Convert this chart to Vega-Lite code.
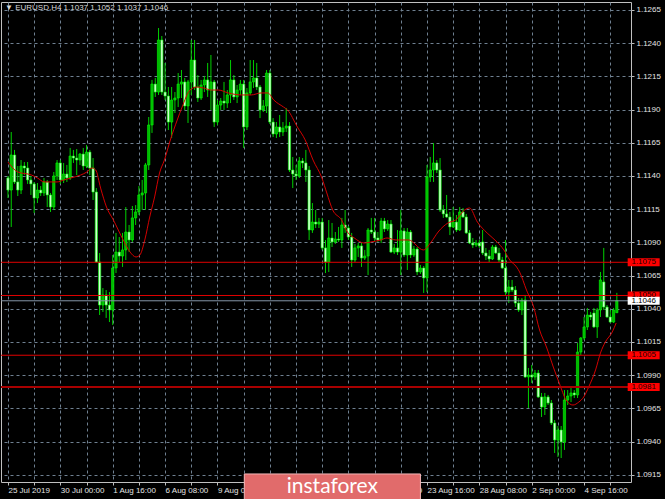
{
  "$schema": "https://vega.github.io/schema/vega-lite/v6.json",
  "width": 630,
  "height": 480,
  "autosize": {"type": "none"},
  "padding": {"left": 1, "top": 2, "right": 34, "bottom": 17},
  "background": "#000000",
  "title": {
    "text": "▼ EURUSD,H4  1.1037 1.1052 1.1037 1.1046",
    "anchor": "start", "frame": "group", "offset": -10, "dx": 4,
    "font": "Liberation Sans", "fontSize": 8, "fontWeight": "normal", "color": "#d8d8d8"
  },
  "config": {
    "view": {"stroke": "#c0c0c0", "strokeWidth": 1},
    "axis": {
      "labelColor": "#e4e4e4", "labelFont": "Liberation Sans", "labelFontSize": 8,
      "tickColor": "#bdbdbd", "tickSize": 3, "domain": false,
      "labelOverlap": false, "labelSeparation": 0,
      "gridColor": "#6f8091", "gridDash": [3, 3], "gridOpacity": 1, "gridWidth": 1
    }
  },
  "datasets": {
    "candles": [
      {"k":0,"o":1.11385,"h":1.114,"l":1.11234,"c":1.11294},
      {"k":1,"o":1.11294,"h":1.11731,"l":1.11016,"c":1.11558},
      {"k":2,"o":1.11558,"h":1.11596,"l":1.1134,"c":1.11355},
      {"k":3,"o":1.11355,"h":1.11475,"l":1.11249,"c":1.11294},
      {"k":4,"o":1.11294,"h":1.1152,"l":1.11264,"c":1.11475},
      {"k":5,"o":1.11475,"h":1.11505,"l":1.11407,"c":1.1146},
      {"k":6,"o":1.1146,"h":1.11505,"l":1.1134,"c":1.1137},
      {"k":7,"o":1.1137,"h":1.114,"l":1.11257,"c":1.1134},
      {"k":8,"o":1.1134,"h":1.11355,"l":1.11121,"c":1.11234},
      {"k":9,"o":1.11234,"h":1.11347,"l":1.11196,"c":1.11294},
      {"k":10,"o":1.11294,"h":1.11324,"l":1.11249,"c":1.11272},
      {"k":11,"o":1.11272,"h":1.11385,"l":1.11249,"c":1.11355},
      {"k":12,"o":1.11355,"h":1.1137,"l":1.11166,"c":1.11257},
      {"k":13,"o":1.11257,"h":1.11272,"l":1.11129,"c":1.11166},
      {"k":14,"o":1.11166,"h":1.1143,"l":1.11144,"c":1.114},
      {"k":15,"o":1.114,"h":1.1152,"l":1.1137,"c":1.11498},
      {"k":16,"o":1.11498,"h":1.1152,"l":1.1134,"c":1.1137},
      {"k":17,"o":1.1137,"h":1.11498,"l":1.11347,"c":1.11415},
      {"k":18,"o":1.11415,"h":1.11483,"l":1.11355,"c":1.11385},
      {"k":19,"o":1.11385,"h":1.11611,"l":1.1137,"c":1.1155},
      {"k":20,"o":1.1155,"h":1.11596,"l":1.11498,"c":1.11535},
      {"k":21,"o":1.11535,"h":1.11603,"l":1.11407,"c":1.1152},
      {"k":22,"o":1.1152,"h":1.11573,"l":1.11483,"c":1.11565},
      {"k":23,"o":1.11565,"h":1.11611,"l":1.11445,"c":1.11475},
      {"k":24,"o":1.11475,"h":1.11633,"l":1.1146,"c":1.1158},
      {"k":25,"o":1.1158,"h":1.11596,"l":1.11407,"c":1.1146},
      {"k":26,"o":1.1146,"h":1.11535,"l":1.11219,"c":1.11279},
      {"k":27,"o":1.11279,"h":1.11309,"l":1.10745,"c":1.10752},
      {"k":28,"o":1.10752,"h":1.1082,"l":1.10353,"c":1.10428},
      {"k":29,"o":1.10428,"h":1.10556,"l":1.10376,"c":1.10504},
      {"k":30,"o":1.10504,"h":1.10541,"l":1.10331,"c":1.10428},
      {"k":31,"o":1.10428,"h":1.10526,"l":1.103,"c":1.10391},
      {"k":32,"o":1.10391,"h":1.10805,"l":1.10278,"c":1.10707},
      {"k":33,"o":1.10707,"h":1.10971,"l":1.10669,"c":1.10827},
      {"k":34,"o":1.10827,"h":1.1094,"l":1.10752,"c":1.10797},
      {"k":35,"o":1.10797,"h":1.10971,"l":1.10715,"c":1.10843},
      {"k":36,"o":1.10843,"h":1.11166,"l":1.10767,"c":1.10978},
      {"k":37,"o":1.10978,"h":1.11031,"l":1.10827,"c":1.10918},
      {"k":38,"o":1.10918,"h":1.11174,"l":1.10903,"c":1.11084},
      {"k":39,"o":1.11084,"h":1.11181,"l":1.11031,"c":1.11129},
      {"k":40,"o":1.11129,"h":1.11324,"l":1.11106,"c":1.11257},
      {"k":41,"o":1.11257,"h":1.1137,"l":1.11144,"c":1.11272},
      {"k":42,"o":1.11272,"h":1.11498,"l":1.11144,"c":1.11483},
      {"k":43,"o":1.11483,"h":1.11844,"l":1.11445,"c":1.11784},
      {"k":44,"o":1.11784,"h":1.12123,"l":1.11724,"c":1.12092},
      {"k":45,"o":1.12092,"h":1.12138,"l":1.11995,"c":1.12032},
      {"k":46,"o":1.12032,"h":1.12514,"l":1.1201,"c":1.12424},
      {"k":47,"o":1.12424,"h":1.12454,"l":1.1201,"c":1.12032},
      {"k":48,"o":1.12032,"h":1.12251,"l":1.11972,"c":1.12002},
      {"k":49,"o":1.12002,"h":1.1207,"l":1.11746,"c":1.11806},
      {"k":50,"o":1.11806,"h":1.1207,"l":1.11686,"c":1.11972},
      {"k":51,"o":1.11972,"h":1.12032,"l":1.11874,"c":1.11987},
      {"k":52,"o":1.11987,"h":1.12175,"l":1.11919,"c":1.12092},
      {"k":53,"o":1.12092,"h":1.12198,"l":1.11987,"c":1.12108},
      {"k":54,"o":1.12108,"h":1.12138,"l":1.11897,"c":1.11927},
      {"k":55,"o":1.11927,"h":1.12123,"l":1.11799,"c":1.12108},
      {"k":56,"o":1.12108,"h":1.12424,"l":1.1201,"c":1.12273},
      {"k":57,"o":1.12273,"h":1.12424,"l":1.12047,"c":1.1207},
      {"k":58,"o":1.1207,"h":1.1216,"l":1.11957,"c":1.11987},
      {"k":59,"o":1.11987,"h":1.12123,"l":1.11972,"c":1.12085},
      {"k":60,"o":1.12085,"h":1.12153,"l":1.12032,"c":1.12123},
      {"k":61,"o":1.12123,"h":1.12251,"l":1.11995,"c":1.12047},
      {"k":62,"o":1.12047,"h":1.12311,"l":1.11897,"c":1.12108},
      {"k":63,"o":1.12108,"h":1.12123,"l":1.11769,"c":1.11806},
      {"k":64,"o":1.11806,"h":1.11972,"l":1.11784,"c":1.11934},
      {"k":65,"o":1.11934,"h":1.11987,"l":1.11897,"c":1.11964},
      {"k":66,"o":1.11964,"h":1.12108,"l":1.11897,"c":1.11949},
      {"k":67,"o":1.11949,"h":1.12047,"l":1.11912,"c":1.1201},
      {"k":68,"o":1.1201,"h":1.12273,"l":1.11949,"c":1.12123},
      {"k":69,"o":1.12123,"h":1.1216,"l":1.11972,"c":1.11995},
      {"k":70,"o":1.11995,"h":1.12085,"l":1.11949,"c":1.12047},
      {"k":71,"o":1.12047,"h":1.12123,"l":1.1201,"c":1.12092},
      {"k":72,"o":1.12092,"h":1.12123,"l":1.11611,"c":1.11769},
      {"k":73,"o":1.11769,"h":1.12062,"l":1.11746,"c":1.12025},
      {"k":74,"o":1.12025,"h":1.12273,"l":1.1201,"c":1.12108},
      {"k":75,"o":1.12108,"h":1.12273,"l":1.12062,"c":1.12138},
      {"k":76,"o":1.12138,"h":1.12251,"l":1.12047,"c":1.1207},
      {"k":77,"o":1.1207,"h":1.12085,"l":1.11836,"c":1.11897},
      {"k":78,"o":1.11897,"h":1.11972,"l":1.11882,"c":1.11927},
      {"k":79,"o":1.11927,"h":1.12198,"l":1.11874,"c":1.12175},
      {"k":80,"o":1.12175,"h":1.12198,"l":1.11791,"c":1.11806},
      {"k":81,"o":1.11806,"h":1.11836,"l":1.11693,"c":1.11716},
      {"k":82,"o":1.11716,"h":1.11806,"l":1.11686,"c":1.11769},
      {"k":83,"o":1.11769,"h":1.11859,"l":1.11693,"c":1.11731},
      {"k":84,"o":1.11731,"h":1.11806,"l":1.11701,"c":1.11761},
      {"k":85,"o":1.11761,"h":1.11912,"l":1.11731,"c":1.11776},
      {"k":86,"o":1.11776,"h":1.11806,"l":1.1143,"c":1.11445},
      {"k":87,"o":1.11445,"h":1.11543,"l":1.11309,"c":1.11415},
      {"k":88,"o":1.11415,"h":1.11483,"l":1.1137,"c":1.114},
      {"k":89,"o":1.114,"h":1.11543,"l":1.11385,"c":1.11513},
      {"k":90,"o":1.11513,"h":1.11535,"l":1.1146,"c":1.11498},
      {"k":91,"o":1.11498,"h":1.11596,"l":1.11355,"c":1.11445},
      {"k":92,"o":1.11445,"h":1.11475,"l":1.10918,"c":1.10993},
      {"k":93,"o":1.10993,"h":1.11196,"l":1.10971,"c":1.11053},
      {"k":94,"o":1.11053,"h":1.11144,"l":1.11008,"c":1.11038},
      {"k":95,"o":1.11038,"h":1.11084,"l":1.11008,"c":1.11053},
      {"k":96,"o":1.11053,"h":1.11084,"l":1.10843,"c":1.10858},
      {"k":97,"o":1.10858,"h":1.10918,"l":1.10669,"c":1.10752},
      {"k":98,"o":1.10752,"h":1.11068,"l":1.10677,"c":1.10933},
      {"k":99,"o":1.10933,"h":1.11046,"l":1.10865,"c":1.10903},
      {"k":100,"o":1.10903,"h":1.10978,"l":1.10888,"c":1.10925},
      {"k":101,"o":1.10925,"h":1.11016,"l":1.10903,"c":1.10918},
      {"k":102,"o":1.10918,"h":1.11084,"l":1.10858,"c":1.11031},
      {"k":103,"o":1.11031,"h":1.11144,"l":1.10971,"c":1.11008},
      {"k":104,"o":1.11008,"h":1.11023,"l":1.10918,"c":1.1094},
      {"k":105,"o":1.1094,"h":1.10971,"l":1.10715,"c":1.10767},
      {"k":106,"o":1.10767,"h":1.10888,"l":1.10752,"c":1.10858},
      {"k":107,"o":1.10858,"h":1.10895,"l":1.1079,"c":1.10873},
      {"k":108,"o":1.10873,"h":1.10895,"l":1.10715,"c":1.10782},
      {"k":109,"o":1.10782,"h":1.10843,"l":1.10767,"c":1.10797},
      {"k":110,"o":1.10797,"h":1.11008,"l":1.10654,"c":1.10993},
      {"k":111,"o":1.10993,"h":1.11084,"l":1.10963,"c":1.10978},
      {"k":112,"o":1.10978,"h":1.11084,"l":1.1091,"c":1.10933},
      {"k":113,"o":1.10933,"h":1.10978,"l":1.10903,"c":1.10918},
      {"k":114,"o":1.10918,"h":1.11084,"l":1.10895,"c":1.11061},
      {"k":115,"o":1.11061,"h":1.11084,"l":1.10978,"c":1.11001},
      {"k":116,"o":1.11001,"h":1.11068,"l":1.10986,"c":1.11038},
      {"k":117,"o":1.11038,"h":1.11068,"l":1.1082,"c":1.10827},
      {"k":118,"o":1.10827,"h":1.10888,"l":1.10812,"c":1.10858},
      {"k":119,"o":1.10858,"h":1.10993,"l":1.10805,"c":1.10827},
      {"k":120,"o":1.10827,"h":1.11144,"l":1.10654,"c":1.10986},
      {"k":121,"o":1.10986,"h":1.11008,"l":1.1079,"c":1.10805},
      {"k":122,"o":1.10805,"h":1.11008,"l":1.10692,"c":1.10978},
      {"k":123,"o":1.10978,"h":1.10993,"l":1.10782,"c":1.10805},
      {"k":124,"o":1.10805,"h":1.10873,"l":1.1079,"c":1.1085},
      {"k":125,"o":1.1085,"h":1.10865,"l":1.10654,"c":1.10677},
      {"k":126,"o":1.10677,"h":1.1073,"l":1.10662,"c":1.10707},
      {"k":127,"o":1.10707,"h":1.10722,"l":1.10519,"c":1.10632},
      {"k":128,"o":1.10632,"h":1.11483,"l":1.10526,"c":1.11392},
      {"k":129,"o":1.11392,"h":1.11543,"l":1.11355,"c":1.11445},
      {"k":130,"o":1.11445,"h":1.11648,"l":1.11355,"c":1.11498},
      {"k":131,"o":1.11498,"h":1.1152,"l":1.11422,"c":1.11445},
      {"k":132,"o":1.11445,"h":1.11535,"l":1.11129,"c":1.11144},
      {"k":133,"o":1.11144,"h":1.11181,"l":1.11084,"c":1.11114},
      {"k":134,"o":1.11114,"h":1.11257,"l":1.11084,"c":1.11091},
      {"k":135,"o":1.11091,"h":1.11129,"l":1.10955,"c":1.11016},
      {"k":136,"o":1.11016,"h":1.11166,"l":1.11008,"c":1.11053},
      {"k":137,"o":1.11053,"h":1.11106,"l":1.10978,"c":1.10993},
      {"k":138,"o":1.10993,"h":1.11166,"l":1.10986,"c":1.11129},
      {"k":139,"o":1.11129,"h":1.11159,"l":1.11084,"c":1.11091},
      {"k":140,"o":1.11091,"h":1.11114,"l":1.10963,"c":1.10971},
      {"k":141,"o":1.10971,"h":1.10993,"l":1.10888,"c":1.10895},
      {"k":142,"o":1.10895,"h":1.10933,"l":1.10858,"c":1.1088},
      {"k":143,"o":1.1088,"h":1.10918,"l":1.10865,"c":1.10895},
      {"k":144,"o":1.10895,"h":1.10918,"l":1.10858,"c":1.10873},
      {"k":145,"o":1.10903,"h":1.10993,"l":1.10805,"c":1.1082},
      {"k":146,"o":1.1082,"h":1.10858,"l":1.10767,"c":1.10797},
      {"k":147,"o":1.10797,"h":1.10843,"l":1.10752,"c":1.10775},
      {"k":148,"o":1.10775,"h":1.1088,"l":1.10767,"c":1.10865},
      {"k":149,"o":1.10865,"h":1.1088,"l":1.10812,"c":1.1082},
      {"k":150,"o":1.1082,"h":1.10858,"l":1.10752,"c":1.10767},
      {"k":151,"o":1.10767,"h":1.1079,"l":1.10699,"c":1.10707},
      {"k":152,"o":1.10707,"h":1.10918,"l":1.10504,"c":1.10526},
      {"k":153,"o":1.10526,"h":1.10617,"l":1.10443,"c":1.10564},
      {"k":154,"o":1.10564,"h":1.10617,"l":1.10526,"c":1.10541},
      {"k":155,"o":1.10541,"h":1.10571,"l":1.10413,"c":1.10443},
      {"k":156,"o":1.10443,"h":1.10481,"l":1.10376,"c":1.10391},
      {"k":157,"o":1.10391,"h":1.10481,"l":1.10353,"c":1.10466},
      {"k":158,"o":1.10466,"h":1.10504,"l":1.09879,"c":1.09886},
      {"k":159,"o":1.09886,"h":1.09954,"l":1.09653,"c":1.09901},
      {"k":160,"o":1.09901,"h":1.09977,"l":1.09841,"c":1.09886},
      {"k":161,"o":1.09886,"h":1.09939,"l":1.09864,"c":1.09916},
      {"k":162,"o":1.09916,"h":1.09939,"l":1.09728,"c":1.09736},
      {"k":163,"o":1.09736,"h":1.09766,"l":1.09585,"c":1.0966},
      {"k":164,"o":1.0966,"h":1.09766,"l":1.096,"c":1.09736},
      {"k":165,"o":1.09736,"h":1.09751,"l":1.09675,"c":1.0969},
      {"k":166,"o":1.0969,"h":1.09713,"l":1.09525,"c":1.0954},
      {"k":167,"o":1.0954,"h":1.09562,"l":1.09314,"c":1.09412},
      {"k":168,"o":1.09412,"h":1.09517,"l":1.09284,"c":1.09487},
      {"k":169,"o":1.09487,"h":1.09517,"l":1.09276,"c":1.09397},
      {"k":170,"o":1.09397,"h":1.09788,"l":1.09337,"c":1.09713},
      {"k":171,"o":1.09713,"h":1.09788,"l":1.09675,"c":1.09743},
      {"k":172,"o":1.09743,"h":1.09811,"l":1.09698,"c":1.09766},
      {"k":173,"o":1.09766,"h":1.09788,"l":1.09728,"c":1.09751},
      {"k":174,"o":1.09751,"h":1.10142,"l":1.09728,"c":1.10074},
      {"k":175,"o":1.10074,"h":1.10187,"l":1.10052,"c":1.1018},
      {"k":176,"o":1.1018,"h":1.10338,"l":1.10165,"c":1.10263},
      {"k":177,"o":1.10263,"h":1.10406,"l":1.1024,"c":1.10353},
      {"k":178,"o":1.10353,"h":1.10376,"l":1.10315,"c":1.10338},
      {"k":179,"o":1.10368,"h":1.10406,"l":1.10255,"c":1.10263},
      {"k":180,"o":1.10263,"h":1.10406,"l":1.1018,"c":1.10391},
      {"k":181,"o":1.10391,"h":1.10677,"l":1.10338,"c":1.10617},
      {"k":182,"o":1.10602,"h":1.10858,"l":1.10391,"c":1.10413},
      {"k":183,"o":1.10413,"h":1.10428,"l":1.10331,"c":1.10338},
      {"k":184,"o":1.10338,"h":1.10391,"l":1.10293,"c":1.103},
      {"k":185,"o":1.103,"h":1.10406,"l":1.10293,"c":1.10391},
      {"k":186,"o":1.1037,"h":1.1052,"l":1.1037,"c":1.1046}
    ],
    "ma": [
      {"k":0,"m":1.11505},{"k":3,"m":1.1143},{"k":7.2,"m":1.11407},{"k":9,"m":1.11385},
      {"k":11.1,"m":1.11355},{"k":15,"m":1.11355},{"k":17.1,"m":1.1137},{"k":19.2,"m":1.11385},
      {"k":22.2,"m":1.11407},{"k":24.1,"m":1.1143},{"k":25.6,"m":1.1146},{"k":26.8,"m":1.11445},
      {"k":28.3,"m":1.11309},{"k":30.1,"m":1.11166},{"k":32.2,"m":1.11069},{"k":35.2,"m":1.10918},
      {"k":37.3,"m":1.10827},{"k":39.1,"m":1.1079},{"k":40.3,"m":1.10805},{"k":41.8,"m":1.10918},
      {"k":43.3,"m":1.11091},{"k":44.8,"m":1.11242},{"k":46.3,"m":1.11422},{"k":47.8,"m":1.1152},
      {"k":49.6,"m":1.11671},{"k":51.7,"m":1.11821},{"k":53.2,"m":1.11919},{"k":55.6,"m":1.12047},
      {"k":57.7,"m":1.1207},{"k":59.8,"m":1.12062},{"k":62.2,"m":1.12047},{"k":64.3,"m":1.12047},
      {"k":67.3,"m":1.12025},{"k":71.3,"m":1.1201},{"k":74.3,"m":1.1201},{"k":77.3,"m":1.12025},
      {"k":79.4,"m":1.12025},{"k":81.2,"m":1.11972},{"k":84.2,"m":1.11919},{"k":85.4,"m":1.11897},
      {"k":88.4,"m":1.11769},{"k":90.8,"m":1.11671},{"k":93.2,"m":1.1152},{"k":95.9,"m":1.11385},
      {"k":97.4,"m":1.11272},{"k":99.2,"m":1.11144},{"k":101.9,"m":1.11069},{"k":103.7,"m":1.10978},
      {"k":105.8,"m":1.10933},{"k":108.8,"m":1.10895},{"k":110.9,"m":1.10903},{"k":113.9,"m":1.10918},
      {"k":115.8,"m":1.10933},{"k":118.5,"m":1.10918},{"k":122.4,"m":1.10918},{"k":126.9,"m":1.10843},
      {"k":129.3,"m":1.10903},{"k":131.4,"m":1.10978},{"k":134.4,"m":1.11046},{"k":136.8,"m":1.11069},
      {"k":139.5,"m":1.11144},{"k":141,"m":1.11159},{"k":143.4,"m":1.11053},{"k":146.4,"m":1.1097},
      {"k":149.4,"m":1.10903},{"k":151.5,"m":1.10843},{"k":153.3,"m":1.10767},{"k":155.4,"m":1.10714},
      {"k":156.3,"m":1.10677},{"k":158.4,"m":1.10541},{"k":160.6,"m":1.10413},{"k":162.4,"m":1.1024},
      {"k":164.5,"m":1.10112},{"k":166.6,"m":1.09961},{"k":168.4,"m":1.09841},{"k":170.5,"m":1.09713},
      {"k":172.6,"m":1.09675},{"k":174.4,"m":1.09698},{"k":175.9,"m":1.09736},{"k":177.4,"m":1.09811},
      {"k":179.5,"m":1.09939},{"k":181,"m":1.10067},{"k":182.5,"m":1.1015},{"k":184.6,"m":1.10225},
      {"k":185.8,"m":1.10293}
    ],
    "levels": [
      {"p":1.1075,"kind":"sr"},
      {"p":1.105,"kind":"sr"},
      {"p":1.1005,"kind":"sr"},
      {"p":1.0981,"kind":"sr2"},
      {"p":1.1046,"kind":"bid"}
    ]
  },
  "layer": [
    {
      "data": {"name": "candles"},
      "mark": {"type": "rule", "color": "#00d000", "strokeWidth": 1},
      "encoding": {
        "x": {
          "field": "k", "type": "quantitative", "title": null,
          "scale": {"domain": [-0.6, 188.8], "nice": false, "zero": false},
          "axis": {
            "values": [0,8,16,24,32,40,48,56,64,72,80,88,96,104,112,120,128,136,144,152,160,168,176,184],
            "tickCount": 40,
            "labelExpr": "datum.value % 16 == 0 ? ['25 Jul 2019','30 Jul 00:00','1 Aug 16:00','6 Aug 08:00','9 Aug 00:00','13 Aug 16:00','16 Aug 08:00','21 Aug 00:00','23 Aug 16:00','28 Aug 08:00','2 Sep 00:00','4 Sep 16:00'][datum.value / 16] : ''",
            "labelAlign": "left", "labelBaseline": "top", "labelPadding": 1,
            "labelOverlap": false, "labelFlush": false, "labelBound": false, "grid": true
          }
        },
        "y": {
          "field": "l", "type": "quantitative", "title": null,
          "scale": {"domain": [1.090955, 1.1271], "nice": false, "zero": false},
          "axis": {
            "orient": "right",
            "values": [1.0915,1.094,1.0965,1.099,1.1015,1.104,1.1065,1.109,1.1115,1.114,1.1165,1.119,1.1215,1.124,1.1265],
            "tickCount": 40,
            "format": ".4f", "labelBaseline": "middle", "labelPadding": 2,
            "labelOverlap": false, "labelFlush": false, "grid": true
          }
        },
        "y2": {"field": "h"}
      }
    },
    {
      "data": {"name": "candles"},
      "mark": {"type": "bar", "size": 2.3, "stroke": "#00ff00", "strokeWidth": 0.6, "opacity": 1},
      "encoding": {
        "x": {"field": "k", "type": "quantitative", "title": null},
        "y": {"field": "o", "type": "quantitative", "title": null},
        "y2": {"field": "c"},
        "fill": {"condition": {"test": "datum.c < datum.o", "value": "#d2ffd2"}, "value": "#00b800"}
      }
    },
    {
      "data": {"name": "ma"},
      "mark": {"type": "line", "color": "#d40000", "strokeWidth": 1, "interpolate": "monotone"},
      "encoding": {
        "x": {"field": "k", "type": "quantitative", "title": null},
        "y": {"field": "m", "type": "quantitative", "title": null}
      }
    },
    {
      "data": {"name": "levels"},
      "mark": {"type": "rule"},
      "encoding": {
        "y": {"field": "p", "type": "quantitative", "title": null},
        "color": {
          "condition": [
            {"test": "datum.kind == 'bid'", "value": "#8596a8"},
            {"test": "datum.kind == 'sr2'", "value": "#a80000"}
          ],
          "value": "#e00000"
        },
        "strokeWidth": {"condition": {"test": "datum.kind == 'sr2'", "value": 2}, "value": 1}
      }
    },
    {
      "data": {"name": "levels"},
      "mark": {"type": "tick", "orient": "horizontal", "size": 32, "thickness": 8, "opacity": 1},
      "encoding": {
        "x": {"datum": 194.2, "type": "quantitative", "title": null},
        "y": {"field": "p", "type": "quantitative", "title": null},
        "color": {"condition": {"test": "datum.kind == 'bid'", "value": "#ffffff"}, "value": "#ff0000"}
      }
    },
    {
      "data": {"name": "levels"},
      "mark": {"type": "text", "font": "Liberation Sans", "fontSize": 8, "align": "center", "baseline": "middle"},
      "encoding": {
        "x": {"datum": 194.2, "type": "quantitative", "title": null},
        "y": {"field": "p", "type": "quantitative", "title": null},
        "text": {"field": "p", "type": "quantitative", "format": ".4f"},
        "color": {"condition": {"test": "datum.kind == 'bid'", "value": "#000000"}, "value": "#1a0000"}
      }
    },
    {
      "data": {"values": [{}]},
      "mark": {"type": "rect", "fill": "#e16b6b", "stroke": "#f2b6b6", "strokeWidth": 1},
      "encoding": {
        "x": {"datum": 72.2, "type": "quantitative", "title": null},
        "x2": {"datum": 126},
        "y": {"datum": 1.09156, "type": "quantitative", "title": null},
        "y2": {"datum": 1.0895}
      }
    },
    {
      "data": {"values": [{}]},
      "mark": {"type": "text", "text": "instaforex", "font": "Lato", "fontSize": 21, "color": "#ffffff", "align": "center", "baseline": "middle"},
      "encoding": {
        "x": {"datum": 99.1, "type": "quantitative", "title": null},
        "y": {"datum": 1.0906, "type": "quantitative", "title": null}
      }
    }
  ]
}
